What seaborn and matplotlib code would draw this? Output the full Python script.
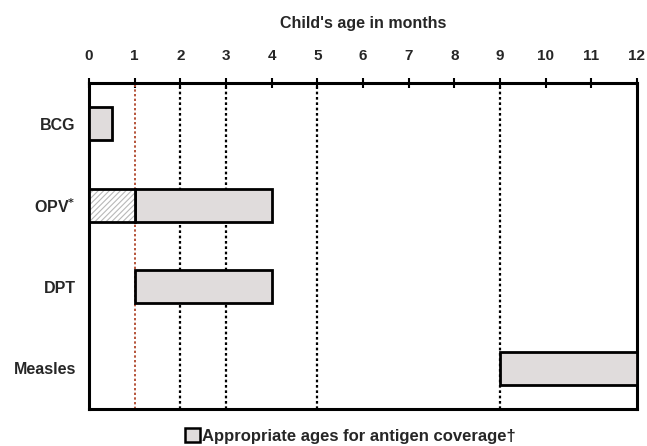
import numpy as np
import matplotlib
matplotlib.use("Agg")
import matplotlib.pyplot as plt
import seaborn as sns
from matplotlib.patches import Patch

# Dati: età appropriate (mesi) per ciascun antigene
vaccines = ['BCG', 'OPV$^{*}$', 'DPT', 'Measles']
start_month = [0, 1, 1, 9]
end_month = [0.5, 4, 4, 12]
opv_birth_start = 0
opv_birth_end = 1
months = list(range(0, 13))
ref_months = [2, 3, 5, 9]
red_month = 1

sns.set_style('white')
plt.rcParams['font.family'] = ['Liberation Sans', 'DejaVu Sans']
plt.rcParams['font.weight'] = 'bold'
plt.rcParams['hatch.linewidth'] = 0.8

fig = plt.figure(figsize=(6.47, 4.46), dpi=100)
ax = fig.add_axes([0.1376, 0.083, 0.8469, 0.7309])

bar_fill = '#e0dcdc'
ypos = np.arange(len(vaccines))
widths = np.array(end_month) - np.array(start_month)

# linee di riferimento verticali
for m in ref_months:
    ax.axvline(m, color='black', linestyle=(0, (1.2, 1.2)), lw=1.6, zorder=1)
ax.axvline(red_month, color='#b5543a', linestyle=(0, (1.2, 1.2)), lw=1.4, zorder=1)

# barre
ax.barh(ypos, widths, left=start_month, height=0.41, color=bar_fill,
        edgecolor='black', linewidth=2, zorder=3)

# dose alla nascita OPV (tratteggiata)
ax.barh(1, opv_birth_end - opv_birth_start, left=opv_birth_start, height=0.41,
        color='white', edgecolor='#b8b8b8', hatch='//////', linewidth=0, zorder=3)
ax.barh(1, opv_birth_end - opv_birth_start, left=opv_birth_start, height=0.41,
        fill=False, edgecolor='black', linewidth=2, zorder=4)

ax.set_xlim(0, 12)
ax.set_ylim(3.5, -0.5)
ax.set_yticks(ypos)
ax.set_yticklabels(vaccines, fontsize=11.5, fontweight='bold')
ax.set_xticks(months)
ax.set_xticklabels([str(m) for m in months], fontsize=11, fontweight='bold')

ax.xaxis.tick_top()
ax.xaxis.set_label_position('top')
ax.set_xlabel("Child's age in months", fontsize=11.5, fontweight='bold', labelpad=15)
ax.tick_params(axis='x', which='major', top=True, bottom=False, direction='inout',
               length=7, width=1.5, color='black', pad=11)
ax.tick_params(axis='y', left=False, pad=6)

for s in ax.spines.values():
    s.set_linewidth(2.2)
    s.set_color('black')
    s.set_visible(True)

handle = Patch(facecolor=bar_fill, edgecolor='black', linewidth=1.8)
ax.legend([handle], ['Appropriate ages for antigen coverage\u2020'],
          loc='upper center', bbox_to_anchor=(0.477, -0.028), frameon=False,
          borderpad=0.1, handlelength=0.9, handleheight=0.9, handletextpad=0.15,
          prop={'size': 12, 'weight': 'bold'})

fig.savefig('out.png', dpi=100)
